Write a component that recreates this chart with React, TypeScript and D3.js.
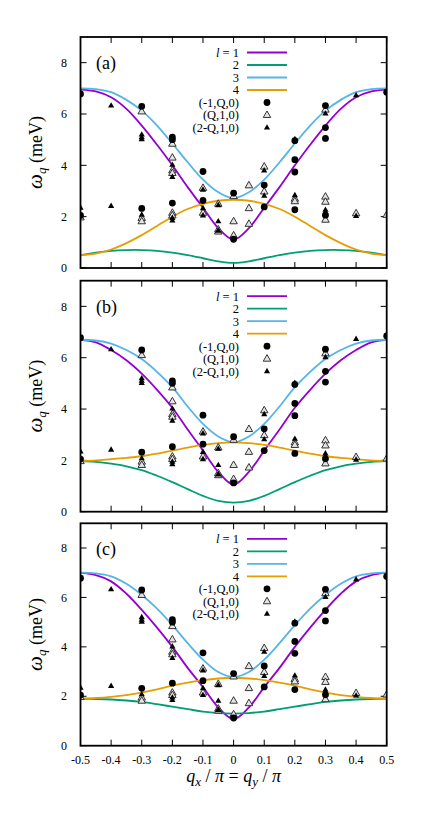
import React from "react";
import * as d3 from "d3";

const qGrid = [-0.5, -0.45, -0.4, -0.35, -0.3, -0.25, -0.2, -0.15, -0.1, -0.05, 0, 0.05, 0.1, 0.15, 0.2, 0.25, 0.3, 0.35, 0.4, 0.45, 0.5];

// panel (a)
const a1 = [6.95, 6.88, 6.65, 6.2, 5.55, 4.8, 4.0, 3.15, 2.35, 1.55, 1.1, 1.55, 2.35, 3.15, 4.0, 4.8, 5.55, 6.2, 6.65, 6.88, 6.95];
const a2 = [0.5, 0.6, 0.67, 0.7, 0.7, 0.67, 0.6, 0.5, 0.38, 0.26, 0.2, 0.26, 0.38, 0.5, 0.6, 0.67, 0.7, 0.7, 0.67, 0.6, 0.5];
const a3 = [7.0, 6.97, 6.85, 6.55, 6.13, 5.55, 4.85, 4.12, 3.44, 2.95, 2.72, 2.95, 3.44, 4.12, 4.85, 5.55, 6.13, 6.55, 6.85, 6.97, 7.0];
const a4 = [0.5, 0.56, 0.72, 0.97, 1.28, 1.64, 2.0, 2.3, 2.5, 2.62, 2.66, 2.62, 2.5, 2.3, 2.0, 1.64, 1.28, 0.97, 0.72, 0.56, 0.5];
// panel (b)
const b1 = [6.7, 6.6, 6.3, 5.9, 5.38, 4.75, 4.05, 3.2, 2.38, 1.55, 1.05, 1.55, 2.38, 3.2, 4.05, 4.75, 5.38, 5.9, 6.3, 6.6, 6.7];
const b2 = [1.97, 1.94, 1.87, 1.77, 1.62, 1.4, 1.15, 0.88, 0.62, 0.42, 0.35, 0.42, 0.62, 0.88, 1.15, 1.4, 1.62, 1.77, 1.87, 1.94, 1.97];
const b3 = [6.7, 6.67, 6.55, 6.3, 5.95, 5.45, 4.85, 4.1, 3.42, 2.93, 2.7, 2.93, 3.42, 4.1, 4.85, 5.45, 5.95, 6.3, 6.55, 6.67, 6.7];
const b4 = [1.97, 2.0, 2.05, 2.1, 2.16, 2.26, 2.38, 2.5, 2.6, 2.67, 2.7, 2.67, 2.6, 2.5, 2.38, 2.26, 2.16, 2.1, 2.05, 2.0, 1.97];
// panel (c)
const c1 = [7.0, 6.9, 6.65, 6.15, 5.5, 4.78, 4.0, 3.15, 2.37, 1.55, 1.08, 1.55, 2.37, 3.15, 4.0, 4.78, 5.5, 6.15, 6.65, 6.9, 7.0];
const c2 = [1.9, 1.89, 1.87, 1.83, 1.77, 1.68, 1.58, 1.48, 1.38, 1.32, 1.3, 1.32, 1.38, 1.48, 1.58, 1.68, 1.77, 1.83, 1.87, 1.89, 1.9];
const c3 = [7.0, 6.97, 6.85, 6.55, 6.1, 5.55, 4.88, 4.15, 3.48, 2.98, 2.78, 2.98, 3.48, 4.15, 4.88, 5.55, 6.1, 6.55, 6.85, 6.97, 7.0];
const c4 = [1.9, 1.93, 1.98, 2.05, 2.15, 2.28, 2.43, 2.55, 2.65, 2.72, 2.75, 2.72, 2.65, 2.55, 2.43, 2.28, 2.15, 2.05, 1.98, 1.93, 1.9];

// experimental points (same in every panel)
const circQ = [-0.5, -0.5, -0.3, -0.3, -0.2, -0.2, -0.2, -0.1, -0.1, 0, 0, 0.1, 0.1, 0.2, 0.2, 0.2, 0.2, 0.3, 0.3, 0.3, 0.3, 0.5];
const circW = [6.78, 2.05, 6.3, 2.32, 5.1, 5.0, 2.53, 3.76, 2.63, 2.92, 1.12, 3.23, 2.38, 4.96, 4.22, 3.74, 2.27, 6.33, 5.47, 5.05, 2.06, 6.85];

const openQ = [-0.5, -0.3, -0.3, -0.3, -0.2, -0.2, -0.2, -0.2, -0.2, -0.2, -0.1, -0.1, -0.05, -0.05, -0.05, 0, 0, 0, 0.05, 0.05, 0.05, 0.1, 0.1, 0.2, 0.2, 0.3, 0.3, 0.3, 0.3, 0.4, 0.5];
const openW = [1.97, 6.1, 1.95, 1.82, 4.84, 4.3, 3.8, 3.7, 2.15, 2.05, 3.12, 2.15, 2.5, 1.5, 1.42, 2.8, 1.82, 1.27, 3.22, 2.33, 1.72, 3.95, 2.98, 2.7, 2.6, 6.17, 2.78, 2.58, 1.88, 2.13, 2.07];

const fillQ = [-0.5, -0.4, -0.4, -0.3, -0.3, -0.3, -0.3, -0.2, -0.2, -0.2, -0.2, -0.1, -0.1, -0.1, -0.05, -0.05, -0.05, 0.1, 0.1, 0.2, 0.2, 0.3, 0.3, 0.3, 0.4, 0.4, 0.5];
const fillW = [2.35, 6.33, 2.42, 5.2, 5.1, 5.02, 2.08, 4.02, 3.55, 1.95, 1.85, 3.05, 2.33, 2.05, 2.45, 1.82, 1.45, 3.8, 2.82, 5.02, 2.84, 6.02, 2.27, 2.18, 6.73, 2.03, 6.9];

const xTicks = [-0.5, -0.4, -0.3, -0.2, -0.1, 0, 0.1, 0.2, 0.3, 0.4, 0.5];
const xTickLabels = ["-0.5", "-0.4", "-0.3", "-0.2", "-0.1", "0", "0.1", "0.2", "0.3", "0.4", "0.5"];
const yTicks = [0, 2, 4, 6, 8];
const panelLabels = ["(a)", "(b)", "(c)"];
const bandNames = ["1", "2", "3", "4"];
const pointNames = ["(-1,Q,0)", "(Q,1,0)", "(2-Q,1,0)"];
const bandColors = ["#9400d3", "#009e73", "#56b4e9", "#e69f00"];
const panelBands = [
  [a1, a2, a3, a4],
  [b1, b2, b3, b4],
  [c1, c2, c3, c4],
];

const FONT = "Liberation Serif, DejaVu Serif, serif";
const W = 436, H = 816;
const LEFT = 80.5, RIGHT = 386.7;
const panelBoxes = [
  { top: 37, bottom: 268 },
  { top: 280.7, bottom: 511.7 },
  { top: 523.3, bottom: 745.7 },
];

const x = d3.scaleLinear().domain([-0.5, 0.5]).range([LEFT, RIGHT]);

function tri(cx: number, cy: number, s: number) {
  const h = s * 0.87;
  return `M${cx},${cy - h * 0.62}L${cx + s / 2},${cy + h * 0.38}L${cx - s / 2},${cy + h * 0.38}Z`;
}

function Panel({ idx }: { idx: number }) {
  const { top, bottom } = panelBoxes[idx];
  const y = d3.scaleLinear().domain([0, 9]).range([bottom, top]);
  const line = d3
    .line<number>()
    .x((_, i) => x(qGrid[i]))
    .y((d) => y(d))
    .curve(d3.curveCatmullRom.alpha(0.5));
  const bands = panelBands[idx];
  const tl = 6;
  const legX = 239;
  const legY0 = top + 15.5;
  const legDy = 12.5;
  return (
    <g>
      <defs>
        <clipPath id={`clip${idx}`}>
          <rect x={LEFT} y={top} width={RIGHT - LEFT} height={bottom - top} />
        </clipPath>
      </defs>
      {xTicks.map((t, i) => (
        <g key={"xt" + i} stroke="#000" strokeWidth={1}>
          <line x1={x(t)} x2={x(t)} y1={bottom} y2={bottom - tl} />
          <line x1={x(t)} x2={x(t)} y1={top} y2={top + tl} />
        </g>
      ))}
      {yTicks.map((t, i) => (
        <g key={"yt" + i}>
          <line x1={LEFT} x2={LEFT + tl} y1={y(t)} y2={y(t)} stroke="#000" strokeWidth={1} />
          <line x1={RIGHT} x2={RIGHT - tl} y1={y(t)} y2={y(t)} stroke="#000" strokeWidth={1} />
          <text x={67} y={y(t)} dy="0.35em" textAnchor="end" fontFamily={FONT} fontSize={12}>
            {t}
          </text>
        </g>
      ))}
      {idx === 2 &&
        xTicks.map((t, i) => (
          <text key={"xl" + i} x={x(t)} y={bottom + 18.5} textAnchor="middle" fontFamily={FONT} fontSize={12}>
            {xTickLabels[i]}
          </text>
        ))}
      <g clipPath={`url(#clip${idx})`}>
        {bands.map((b, i) => (
          <path key={"c" + i} d={line(b) || ""} fill="none" stroke={bandColors[i]} strokeWidth={1.8} />
        ))}
        {openQ.map((q, i) => (
          <path key={"o" + i} d={tri(x(q), y(openW[i]), 7.5)} fill="#e4e4e4" stroke="#333" strokeWidth={1} />
        ))}
        {fillQ.map((q, i) => (
          <path key={"f" + i} d={tri(x(q), y(fillW[i]), 6.2)} fill="#000" />
        ))}
        {circQ.map((q, i) => (
          <circle key={"p" + i} cx={x(q)} cy={y(circW[i])} r={3.4} fill="#000" />
        ))}
      </g>
      {bandNames.map((n, i) => (
        <g key={"lg" + i}>
          <text x={legX} y={legY0 + i * legDy} dy="0.35em" textAnchor="end" fontFamily={FONT} fontSize={12.5}>
            {i === 0 ? (
              <>
                <tspan fontStyle="italic">l</tspan> = 1
              </>
            ) : (
              n
            )}
          </text>
          <line x1={247} x2={287} y1={legY0 + i * legDy} y2={legY0 + i * legDy} stroke={bandColors[i]} strokeWidth={1.8} />
        </g>
      ))}
      {pointNames.map((n, i) => {
        const ly = legY0 + (i + 4) * legDy;
        return (
          <g key={"lp" + i}>
            <text x={legX} y={ly} dy="0.35em" textAnchor="end" fontFamily={FONT} fontSize={12.5}>
              {n}
            </text>
            {i === 0 && <circle cx={267} cy={ly} r={3.4} fill="#000" />}
            {i === 1 && <path d={tri(267, ly, 7.5)} fill="#e4e4e4" stroke="#333" strokeWidth={1} />}
            {i === 2 && <path d={tri(267, ly, 6.2)} fill="#000" />}
          </g>
        );
      })}
      <text x={96} y={top + 32} fontFamily={FONT} fontSize={18}>
        {panelLabels[idx]}
      </text>
      <text
        transform={`translate(42,${(top + bottom) / 2}) rotate(-90)`}
        textAnchor="middle"
        fontFamily={FONT}
        fontSize={18}
      >
        <tspan fontStyle="italic" fontSize={21}>ω</tspan>
        <tspan fontStyle="italic" fontSize={13} dy={4}>q</tspan>
        <tspan dy={-4}> (meV)</tspan>
      </text>
      <rect x={LEFT} y={top} width={RIGHT - LEFT} height={bottom - top} fill="none" stroke="#000" strokeWidth={1.8} />
    </g>
  );
}

export default function App() {
  return (
    <svg width={W} height={H} style={{ position: "absolute", left: 0, top: 0, background: "#fff" }}>
      <rect width={W} height={H} fill="#fff" />
      {[0, 1, 2].map((i) => (
        <Panel key={i} idx={i} />
      ))}
      <text x={x(0)} y={782} textAnchor="middle" fontFamily={FONT} fontSize={18}>
        <tspan fontStyle="italic">q</tspan>
        <tspan fontStyle="italic" fontSize={13} dy={4}>x</tspan>
        <tspan dy={-4}> / </tspan>
        <tspan fontStyle="italic">π</tspan>
        <tspan> = </tspan>
        <tspan fontStyle="italic">q</tspan>
        <tspan fontStyle="italic" fontSize={13} dy={4}>y</tspan>
        <tspan dy={-4}> / </tspan>
        <tspan fontStyle="italic">π</tspan>
      </text>
    </svg>
  );
}
